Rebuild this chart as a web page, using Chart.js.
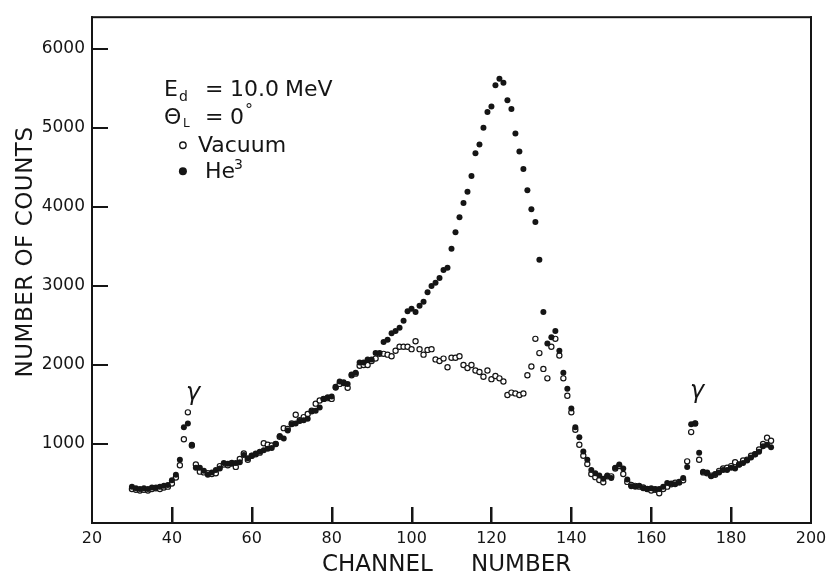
<!DOCTYPE html>
<html>
<head>
<meta charset="utf-8">
<script src="https://cdn.jsdelivr.net/npm/chart.js@4.4.1/dist/chart.umd.min.js"></script>
<style>
  body { margin: 0; background: #fff; }
  #wrap { width: 835px; height: 575px; }
</style>
</head>
<body>
<div id="wrap"><canvas id="chart"></canvas></div>
<script>
// channel numbers run from 30 upward, one reading per channel
const firstChannel = 30;

// He3 target (filled points)
const heCounts = [
  460, 440, 430, 440, 430, 450, 450, 460, 470, 480,
  540, 610, 800, 1210, 1260, 990, 700, 700, 660, 610,
  640, 670, 690, 760, 750, 750, 760, 770, 860, 820,
  850, 880, 900, 920, 940, 950, 1000, 1100, 1070, 1170,
  1250, 1260, 1290, 1300, 1320, 1410, 1420, 1460, 1570, 1590,
  1600, 1710, 1790, 1780, 1760, 1880, 1900, 2030, 2030, 2070,
  2070, 2150, 2150, 2290, 2320, 2400, 2430, 2470, 2560, 2680,
  2710, 2670, 2750, 2800, 2920, 3000, 3040, 3100, 3200, 3230,
  3470, 3680, 3870, 4050, 4190, 4390, 4680, 4790, 5000, 5200,
  5270, 5540, 5620, 5570, 5350, 5240, 4930, 4700, 4480, 4210,
  3970, 3810, 3330, 2670, 2270, 2350, 2430, 2180, 1900, 1700,
  1450, 1210, 1085, 905, 800, 670, 630, 600, 560, 600,
  570, 700, 740, 690, 550, 465, 460, 470, 440, 430,
  440, 430, 430, 460, 505, 500, 490, 510, 570, 710,
  1250, 1260, 890, 650, 640, 590, 620, 640, 670, 670,
  700, 690, 740, 760, 790, 830, 870, 900, 970, 990,
  960
];

// vacuum (open points)
const vacCounts = [
  430, 420, 410, 420, 410, 430, 440, 430, 450, 460,
  500, 575, 730, 1060, 1400, 980, 740, 650, 640, 630,
  620, 630, 720, 740, 730, 760, 710, 810, 880, 800,
  850, 870, 890, 1010, 990, 980, 1000, 1090, 1200, 1190,
  1260, 1370, 1300, 1340, 1380, 1420, 1510, 1550, 1570, 1580,
  1570, 1720, 1760, 1770, 1710, 1870, 1890, 1990, 2000, 2000,
  2050, 2080, 2140, 2140, 2130, 2110, 2180, 2230, 2230, 2230,
  2200, 2300, 2200, 2130, 2190, 2200, 2070, 2050, 2080, 1970,
  2090, 2090, 2110, 2000, 1960, 2000, 1930, 1910, 1850, 1930,
  1820, 1860, 1830, 1790, 1620, 1650, 1640, 1620, 1640, 1870,
  1980, 2330, 2150, 1950, 1830, 2230, 2330, 2120, 1830, 1610,
  1400, 1180, 990, 850, 745, 620, 580, 545, 515, 590,
  590, 690, 720, 620, 520, 480, 470, 460, 450, 430,
  410, 420, 375, 430, 460, 490, 510, 520, 540, 780,
  1150, 1260, 800, 640, 630, 600, 610, 660, 690, 700,
  720, 770, 740, 790, 800, 850, 870, 930, 1000, 1080,
  1040
];

const xTicks = [20, 40, 60, 80, 100, 120, 140, 160, 180, 200];
const yTicks = [1000, 2000, 3000, 4000, 5000, 6000];

const toPoints = (vals) => vals.map((v, i) => ({ x: firstChannel + i, y: v }));

const ink = '#151515';
const fontFamily = '"DejaVu Sans", sans-serif';

// frame, inward ticks, titles and labels
const decorations = {
  id: 'decorations',
  afterDraw(chart) {
    const { ctx, chartArea: a, scales } = chart;
    const sx = scales.x, sy = scales.y;
    ctx.save();
    ctx.fillStyle = ink;
    // frame
    ctx.fillRect(a.left - 1, a.top - 1, a.right - a.left + 2, 2);
    ctx.fillRect(a.left - 1, a.bottom - 1, a.right - a.left + 2, 2);
    ctx.fillRect(a.left - 1, a.top - 1, 2, a.bottom - a.top + 2);
    ctx.fillRect(a.right - 1, a.top - 1, 2, a.bottom - a.top + 2);

    // inward ticks
    xTicks.slice(1, -1).forEach(t => {
      const px = Math.round(sx.getPixelForValue(t));
      ctx.fillRect(px - 1, a.bottom - 16, 2.5, 16);
    });
    yTicks.forEach(t => {
      const py = Math.round(sy.getPixelForValue(t));
      ctx.fillRect(a.left, py - 1, 16, 2);
    });

    // axis titles
    ctx.font = '23px ' + fontFamily;
    ctx.textAlign = 'left';
    ctx.textBaseline = 'alphabetic';
    ctx.fillText('CHANNEL', 322, 571);
    ctx.fillText('NUMBER', 471, 571);
    ctx.save();
    ctx.translate(32, 252);
    ctx.rotate(-Math.PI / 2);
    ctx.textAlign = 'center';
    ctx.letterSpacing = '0.5px';
    ctx.fillText('NUMBER OF COUNTS', 0, 0);
    ctx.restore();

    // gamma peaks
    ctx.font = 'italic 24px ' + fontFamily;
    ctx.textAlign = 'center';
    ctx.textBaseline = 'middle';
    ctx.fillText('γ', sx.getPixelForValue(45.3), sy.getPixelForValue(1640));
    ctx.fillText('γ', sx.getPixelForValue(171.5), sy.getPixelForValue(1660));

    // legend block
    const lx = sx.getPixelForValue(38);
    const ly = sy.getPixelForValue(5400);
    ctx.textAlign = 'left';
    ctx.textBaseline = 'alphabetic';
    const big = '22px ' + fontFamily;
    ctx.font = big;
    ctx.fillText('E', lx, ly);
    ctx.font = '14px ' + fontFamily;
    ctx.fillText('d', lx + 15, ly + 5);
    ctx.font = big;
    ctx.fillText('=', lx + 41, ly);
    ctx.fillText('10.0', lx + 66, ly);
    ctx.fillText('MeV', lx + 121, ly);

    const l2 = ly + 28;
    ctx.fillText('Θ', lx, l2);
    ctx.font = '12px ' + fontFamily;
    ctx.fillText('L', lx + 19, l2 + 3);
    ctx.font = big;
    ctx.fillText('=', lx + 41, l2);
    ctx.fillText('0', lx + 66, l2);
    ctx.font = '16px ' + fontFamily;
    ctx.fillText('°', lx + 81, l2 - 9);

    const l3 = l2 + 28;
    ctx.strokeStyle = ink;
    ctx.lineWidth = 1.4;
    ctx.beginPath();
    ctx.arc(lx + 19, l3 - 7, 3.2, 0, Math.PI * 2);
    ctx.stroke();
    ctx.font = big;
    ctx.fillText('Vacuum', lx + 34, l3);

    const l4 = l3 + 26;
    ctx.beginPath();
    ctx.arc(lx + 19, l4 - 7, 4, 0, Math.PI * 2);
    ctx.fill();
    ctx.fillText('He', lx + 41, l4);
    ctx.font = '14px ' + fontFamily;
    ctx.fillText('3', lx + 70, l4 - 9);
    ctx.restore();
  }
};

new Chart(document.getElementById('chart'), {
  type: 'scatter',
  data: {
    datasets: [
      {
        label: 'He3',
        data: toPoints(heCounts),
        pointRadius: 3,
        pointBackgroundColor: ink,
        pointBorderColor: ink,
        pointBorderWidth: 0,
        pointHoverRadius: 3,
      },
      {
        label: 'Vacuum',
        data: toPoints(vacCounts),
        pointRadius: 2.6,
        pointBackgroundColor: '#fff',
        pointBorderColor: ink,
        pointBorderWidth: 1.2,
        pointHoverRadius: 2.6,
      },
    ],
  },
  options: {
    responsive: true,
    maintainAspectRatio: false,
    animation: false,
    layout: { padding: { left: 0, top: 8, right: 24, bottom: 0 } },
    plugins: {
      legend: { display: false },
      tooltip: { enabled: false },
    },
    scales: {
      x: {
        type: 'linear',
        min: 20,
        max: 200,
        afterFit: (s) => { s.height = 52; },
        afterBuildTicks: (s) => { s.ticks = xTicks.map(v => ({ value: v })); },
        grid: { display: false, drawTicks: false },
        border: { display: false },
        ticks: {
          color: ink,
          padding: 6,
          font: { family: fontFamily, size: 16 },
          callback: (v) => String(v),
        },
      },
      y: {
        min: 0,
        max: 6400,
        afterFit: (s) => { s.width = 92; },
        afterBuildTicks: (s) => { s.ticks = yTicks.map(v => ({ value: v })); },
        grid: { display: false, drawTicks: false },
        border: { display: false },
        ticks: {
          color: ink,
          padding: 7,
          font: { family: fontFamily, size: 17 },
          callback: (v) => String(v),
        },
      },
    },
  },
  plugins: [decorations],
});
</script>
</body>
</html>
